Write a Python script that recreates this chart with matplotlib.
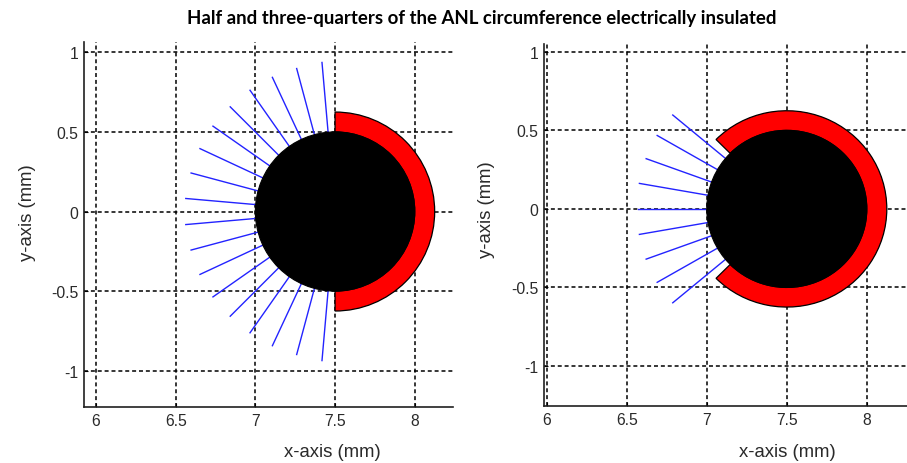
import matplotlib
matplotlib.use("Agg")
import matplotlib.pyplot as plt
from matplotlib.patches import Circle, Wedge
import numpy as np

# geometry of the electrode (mm)
centre = (7.5, 0.0)
core_radius = 0.5
insul_width = 0.125

# insulated arc (degrees) for each panel
left_arc = (-90, 90)
right_arc = (-135, 135)

# current lines: angle (deg) and outer radius (mm)
left_angles = [95, 105, 115, 125, 135, 145, 155, 165, 175,
               185, 195, 205, 215, 225, 235, 245, 255, 265]
left_ends = [0.94, 0.93, 0.93, 0.93, 0.93, 0.935, 0.935, 0.935, 0.94,
             0.94, 0.935, 0.935, 0.935, 0.93, 0.93, 0.93, 0.93, 0.94]
right_angles = [140, 150, 160, 170, 180, 190, 200, 210, 220]
right_ends = [0.93, 0.935, 0.935, 0.935, 0.93, 0.935, 0.935, 0.935, 0.93]

xticks = [6, 6.5, 7, 7.5, 8]
xtick_labels = ['6', '6.5', '7', '7.5', '8']
yticks = [-1, -0.5, 0, 0.5, 1]
ytick_labels = ['-1', '-0.5', '0', '0.5', '1']

title = "Half and three-quarters of the ANL circumference electrically insulated"

W, H = 907, 464
fig = plt.figure(figsize=(W / 100, H / 100), dpi=100)
plt.rcParams['font.family'] = ['Liberation Sans', 'DejaVu Sans']

txt_col = '#2a2a2a'


def panel(rect, xlim, ylim, arc, angles, ends, xl_pos, yl_pos):
    ax = fig.add_axes(rect)
    ax.set_xlim(*xlim)
    ax.set_ylim(*ylim)
    ax.set_axisbelow(True)
    ax.grid(True, color='black', linewidth=1.1, linestyle=(0, (2.6, 1.9)))
    for s in ['top', 'right']:
        ax.spines[s].set_visible(False)
    for s in ['left', 'bottom']:
        ax.spines[s].set_linewidth(1.2)
        ax.spines[s].set_color('#202020')
    ax.set_xticks(xticks)
    ax.set_xticklabels(xtick_labels)
    ax.set_yticks(yticks)
    ax.set_yticklabels(ytick_labels)
    ax.tick_params(direction='in', length=3, width=0.8, labelsize=11.3,
                   labelcolor=txt_col, pad=4)

    # current lines
    for a, r in zip(angles, ends):
        t = np.deg2rad(a)
        ax.plot([centre[0] + core_radius * np.cos(t), centre[0] + r * np.cos(t)],
                [centre[1] + core_radius * np.sin(t), centre[1] + r * np.sin(t)],
                color='#2323ff', lw=1.0, zorder=2)

    ax.add_patch(Wedge(centre, core_radius + insul_width, arc[0], arc[1],
                       width=insul_width, facecolor='#ff0000',
                       edgecolor='black', lw=0.9, zorder=3))
    ax.add_patch(Circle(centre, core_radius, facecolor='black',
                        edgecolor='black', lw=0.8, zorder=4))

    ax.set_xlabel('x-axis (mm)', fontsize=13.3, color=txt_col)
    ax.set_ylabel('y-axis (mm)', fontsize=13.3, color=txt_col)
    ax.xaxis.set_label_coords(*xl_pos)
    ax.yaxis.set_label_coords(*yl_pos)
    ax.xaxis.label.set_verticalalignment('center')
    ax.yaxis.label.set_verticalalignment('center')
    return ax


def px_rect(l, r, t, b):
    return [l / W, 1 - b / H, (r - l) / W, (b - t) / H]


panel(px_rect(84, 453, 43, 408), (5.925, 8.24), (-1.228, 1.065), left_arc,
      left_angles, left_ends, (0.672, -0.123), (-0.154, 0.534))
panel(px_rect(544, 910, 45, 407), (5.983, 8.27), (-1.255, 1.05), right_arc,
      right_angles, right_ends, (0.664, -0.127), (-0.157, 0.544))

t = fig.text(481.5 / W, 1 - 18.5 / H, title, ha='center', va='center',
             fontsize=13, fontweight='bold', family=['Lato', 'DejaVu Sans'])
# squeeze the title into the width it takes in the original (~589 px)
fig.canvas.draw()
w = t.get_window_extent().width
t.set_fontsize(13 * 589 / w)

fig.savefig('out.png', dpi=100)
